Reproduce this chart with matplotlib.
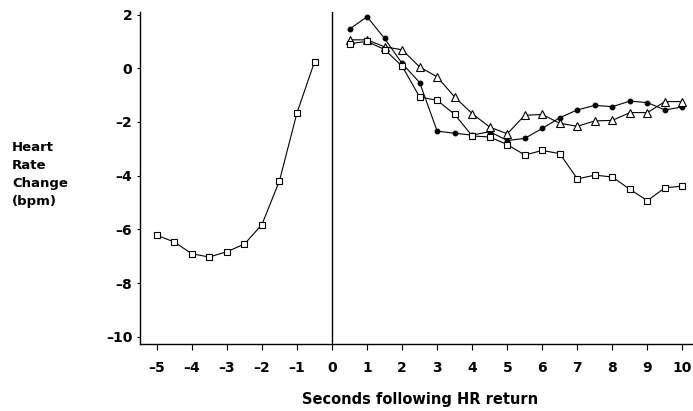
import matplotlib
matplotlib.use("Agg")
import matplotlib.pyplot as plt

plt.rcParams['font.family'] = ['DejaVu Sans']

# Pre-return period (seconds before HR return)
pre_x = [-5.0, -4.5, -4.0, -3.5, -3.0, -2.5, -2.0, -1.5, -1.0, -0.5]
pre_sq = [-6.22, -6.47, -6.91, -7.03, -6.83, -6.55, -5.82, -4.19, -1.66, 0.24]

# Post-return period
post_x = [0.5, 1.0, 1.5, 2.0, 2.5, 3.0, 3.5, 4.0, 4.5, 5.0,
          5.5, 6.0, 6.5, 7.0, 7.5, 8.0, 8.5, 9.0, 9.5, 10.0]
post_circle = [1.46, 1.92, 1.11, 0.18, -0.53, -2.34, -2.42, -2.49, -2.36, -2.69,
               -2.61, -2.24, -1.84, -1.55, -1.38, -1.43, -1.22, -1.28, -1.55, -1.44]
post_tri = [1.06, 1.06, 0.80, 0.69, 0.05, -0.32, -1.07, -1.69, -2.19, -2.44,
            -1.75, -1.72, -2.05, -2.16, -1.96, -1.94, -1.65, -1.65, -1.24, -1.24]
post_sq = [0.92, 1.00, 0.70, 0.08, -1.07, -1.19, -1.72, -2.52, -2.56, -2.84,
           -3.23, -3.06, -3.18, -4.12, -3.98, -4.05, -4.51, -4.93, -4.45, -4.39]

x_ticks = list(range(-5, 11))
y_ticks = [2, 0, -2, -4, -6, -8, -10]

fig = plt.figure(figsize=(6.93, 4.11), dpi=100)
ax = fig.add_axes([0.202, 0.163, 0.798, 0.808])

lw = 0.8
ax.plot(pre_x, pre_sq, color='black', lw=lw, marker='s', ms=4.8,
        mfc='white', mec='black', mew=0.8)
ax.plot(post_x, post_circle, color='black', lw=lw, marker='o', ms=3.2,
        mfc='black', mec='black')
ax.plot(post_x, post_tri, color='black', lw=lw, marker='^', ms=5.3,
        mfc='white', mec='black', mew=0.8)
ax.plot(post_x, post_sq, color='black', lw=lw, marker='s', ms=4.8,
        mfc='white', mec='black', mew=0.8)

ax.axvline(0, color='black', lw=1.0)

ax.set_xlim(-5.48, 10.3)
ax.set_ylim(-10.27, 2.1)
ax.set_xticks(x_ticks)
ax.set_yticks(y_ticks)
ax.set_xticklabels([str(v).replace('-', '\u2013') for v in x_ticks])
ax.set_yticklabels([str(v).replace('-', '\u2013') for v in y_ticks])

for s in ['top', 'right']:
    ax.spines[s].set_visible(False)
ax.spines['left'].set_linewidth(1.0)
ax.spines['bottom'].set_linewidth(1.0)

ax.tick_params(axis='x', direction='out', length=4, width=0.8, pad=8,
               labelsize=10)
ax.tick_params(axis='y', direction='out', length=2.5, width=0.8, pad=3,
               labelsize=10)
for lab in ax.get_xticklabels() + ax.get_yticklabels():
    lab.set_fontweight('bold')

fig.text(0.0175, 0.575, "Heart\nRate\nChange\n(bpm)", ha='left', va='center',
         fontsize=9.5, fontweight='bold', linespacing=1.48)
fig.text(0.606, 0.027, "Seconds following HR return", ha='center', va='center',
         fontsize=10.5, fontweight='bold')

fig.savefig("out.png", dpi=100)
